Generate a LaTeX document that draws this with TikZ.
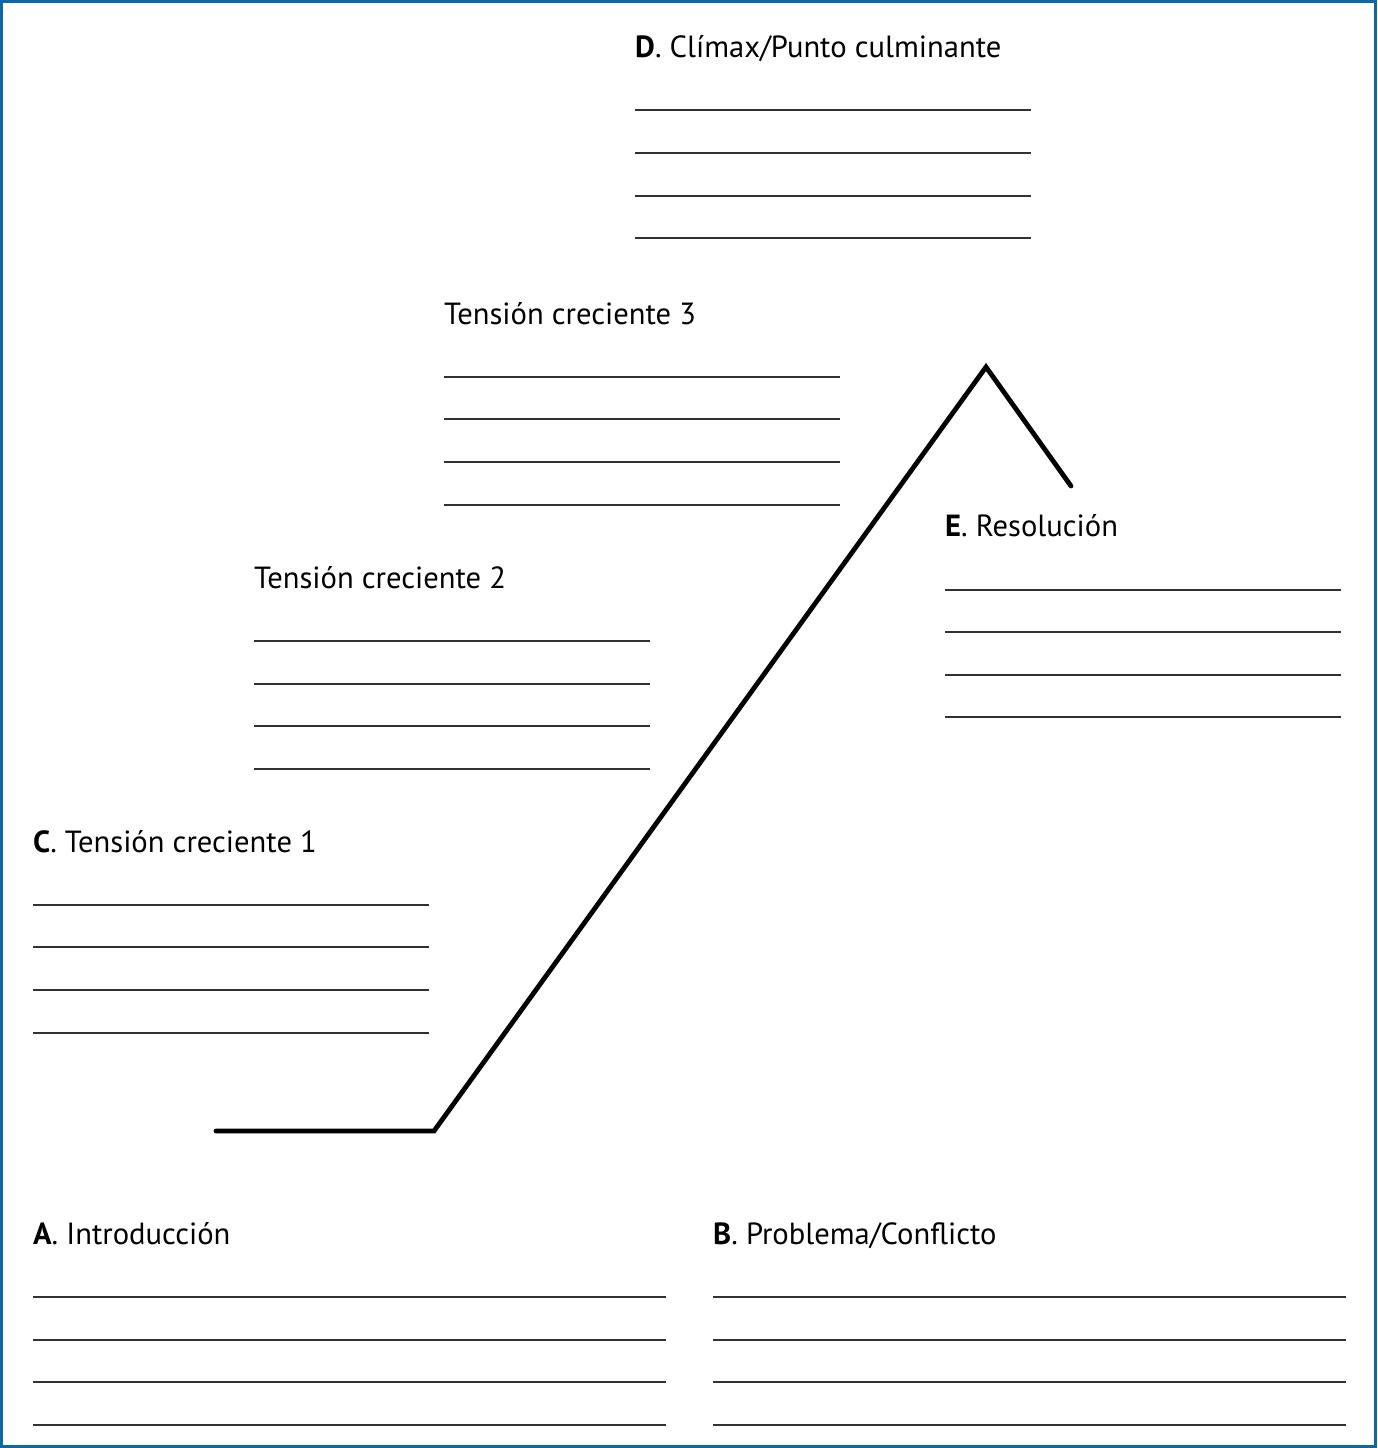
\documentclass[tikz,border=0pt]{standalone}
\usepackage{fontspec}
\setmainfont{PT Sans}
\definecolor{frameblue}{RGB}{12,104,164}
\definecolor{rulegray}{RGB}{50,50,50}
\begin{document}
\begin{tikzpicture}[x=1pt,y=-1pt,
  lbl/.style={anchor=base west,inner sep=0pt,font=\fontsize{30.6}{36}\selectfont},
  writeline/.style={draw=rulegray,line width=1.3pt},
  plot/.style={draw=black,line width=4.8pt,line cap=round,line join=miter}]
\useasboundingbox (0,0) rectangle (1377,1448);
\draw[frameblue,line width=3pt] (1.5,1.5) rectangle (1375.5,1446.5);
% labels
\node[lbl] (D) at (635,57) {\textbf{D}. Clímax/Punto culminante};
\node[lbl] (T3) at (444,324) {Tensión creciente 3};
\node[lbl] (T2) at (254,588) {Tensión creciente 2};
\node[lbl] (C) at (33,852) {\textbf{C}. Tensión creciente 1};
\node[lbl] (E) at (945,536) {\textbf{E}. Resolución};
\node[lbl] (A) at (33,1244) {\textbf{A}. Introducción};
\node[lbl] (B) at (713,1244) {\textbf{B}. Problema/Conflicto};
% writing lines
\foreach \y in {110,153,196,238} \draw[writeline] (635,\y) -- (1031,\y);
\foreach \y in {377,419,462,505} \draw[writeline] (444,\y) -- (840,\y);
\foreach \y in {641,684,726,769} \draw[writeline] (254,\y) -- (650,\y);
\foreach \y in {905,947,990,1033} \draw[writeline] (33,\y) -- (429,\y);
\foreach \y in {590,632,675,717} \draw[writeline] (945,\y) -- (1341,\y);
\foreach \y in {1297,1340,1382,1425} {
  \draw[writeline] (33,\y) -- (666,\y);
  \draw[writeline] (713,\y) -- (1346,\y);
}
% plot line
\coordinate (p0) at (216,1131);
\coordinate (p1) at (434,1131);
\coordinate (p2) at (986,367);
\coordinate (p3) at (1071,486);
\draw[plot] (p0) -- (p1) -- (p2) -- (p3);
\end{tikzpicture}
\end{document}
